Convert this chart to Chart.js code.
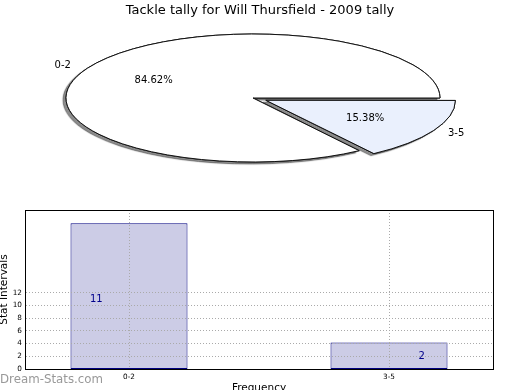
<!DOCTYPE html>
<html>
<head>
<meta charset="utf-8">
<script src="https://cdn.jsdelivr.net/npm/chart.js@4.4.1/dist/chart.umd.min.js"></script>
<style>
  html, body { margin: 0; padding: 0; background: #fff; }
  body { width: 520px; height: 390px; position: relative; overflow: hidden; font-family: "DejaVu Sans", sans-serif; }
  #title { position: absolute; left: 0; top: 2px; width: 520px; text-align: center; font-size: 13px; line-height: 15px; color: #000; }
  #pieBox { position: absolute; left: 0; top: 0; width: 506px; height: 196px; }
  #barBox { position: absolute; left: 0; top: 200px; width: 520px; height: 190px; }
  #mark { position: absolute; left: 0; top: 372px; font-size: 11.8px; line-height: 14px; color: #999; }
</style>
</head>
<body>
<div id="pieBox"><canvas id="pieChart"></canvas></div>
<div id="title">Tackle tally for Will Thursfield - 2009 tally</div>
<div id="barBox"><canvas id="barChart"></canvas></div>
<div id="mark">Dream-Stats.com</div>
<script>
// pie data
const sliceLabels = ["0-2", "3-5"];
const sliceCounts = [11, 2];
const sliceColors = ["#ffffff", "#eaf0fd"];
const sliceOffsets = [0, 58];

// bar data
const barLabels = ["0-2", "3-5"];
const barValues = [11, 2];
const yTicks = [0, 2, 4, 6, 8, 10, 12];

const total = sliceCounts.reduce((a, b) => a + b, 0);
const squash = 64 / 187;
const font = "'DejaVu Sans', sans-serif";

// squash the pie into an ellipse, with a drop shadow under it
const pieLook = {
    id: "pieLook",
    beforeDatasetsDraw(chart) {
        const ctx = chart.ctx;
        const meta = chart.getDatasetMeta(0);
        const cx = meta.data[0].x, cy = meta.data[0].y;
        const base = ctx.getTransform();
        ctx.save();
        ctx.translate(cx, cy);
        ctx.scale(1, squash);
        ctx.translate(-cx, -cy);
        // keep outline width even after the squash
        const stroke = ctx.stroke;
        ctx.stroke = function () {
            this.save();
            this.setTransform(base);
            stroke.call(this);
            this.restore();
        };
        ctx.save();
        ctx.shadowColor = "rgba(0,0,0,0.45)";
        ctx.shadowOffsetX = -3;
        ctx.shadowOffsetY = 2;
        ctx.shadowBlur = 1;
        meta.controller.draw();
        ctx.restore();
    },
    afterDatasetsDraw(chart) {
        const ctx = chart.ctx;
        delete ctx.stroke;
        ctx.restore();

        const meta = chart.getDatasetMeta(0);
        ctx.save();
        ctx.font = "10px " + font;
        ctx.fillStyle = "#000";
        ctx.textBaseline = "middle";
        meta.data.forEach((arc, i) => {
            const mid = (arc.startAngle + arc.endAngle) / 2;
            const shift = (sliceOffsets[i] || 0) / 4;
            const r = arc.outerRadius;
            const at = k => [
                arc.x + Math.cos(mid) * (shift + k * r),
                arc.y + Math.sin(mid) * (shift + k * r) * squash
            ];
            let [x, y] = at(1.1);
            ctx.textAlign = Math.cos(mid) >= 0 ? "left" : "right";
            ctx.fillText(sliceLabels[i], x, y);
            [x, y] = at(0.6);
            ctx.textAlign = "center";
            ctx.fillText((sliceCounts[i] / total * 100).toFixed(2) + "%", x, y);
        });
        ctx.restore();
    }
};

new Chart(document.getElementById("pieChart"), {
    type: "pie",
    data: {
        labels: sliceLabels,
        datasets: [{
            data: sliceCounts,
            backgroundColor: sliceColors,
            borderColor: "#111",
            borderWidth: 1,
            offset: sliceOffsets,
            clip: false
        }]
    },
    options: {
        responsive: true,
        maintainAspectRatio: false,
        animation: false,
        events: [],
        radius: 187,
        rotation: 90 - 360 * sliceCounts[0] / total,
        plugins: {
            legend: { display: false },
            tooltip: { enabled: false }
        }
    },
    plugins: [pieLook]
});

// number written next to each bar, on the tick scale
const barText = {
    id: "barText",
    afterDatasetsDraw(chart) {
        const ctx = chart.ctx;
        const yScale = chart.scales.y;
        const meta = chart.getDatasetMeta(0);
        ctx.save();
        ctx.font = "10px " + font;
        ctx.fillStyle = "#00008b";
        ctx.textAlign = "center";
        ctx.textBaseline = "middle";
        meta.data.forEach((bar, i) => {
            const side = i === 0 ? -1 : 1;
            ctx.fillText(String(barValues[i]), bar.x + side * bar.width * 0.28, yScale.getPixelForValue(barValues[i]));
        });
        ctx.restore();
    }
};

const frame = {
    id: "frame",
    afterDraw(chart) {
        const a = chart.chartArea;
        const ctx = chart.ctx;
        ctx.save();
        ctx.strokeStyle = "#000";
        ctx.lineWidth = 1;
        ctx.strokeRect(Math.round(a.left) + 0.5, Math.round(a.top) + 0.5,
            Math.round(a.right - a.left), Math.round(a.bottom - a.top));
        ctx.restore();
    }
};

const tickFont = { family: "DejaVu Sans", size: 7.3 };
// grid is drawn above the bars, so the border layer must follow it
const dotted = { color: "#000", dash: [1, 2], z: 1 };

new Chart(document.getElementById("barChart"), {
    type: "bar",
    data: {
        datasets: [{
            data: barValues.map((v, i) => ({ x: i, y: v })),
            yAxisID: "yBar",
            backgroundColor: "#ccccE6",
            borderColor: "#000080",
            borderWidth: 1,
            borderSkipped: false,
            barPercentage: 0.45,
            categoryPercentage: 1
        }]
    },
    options: {
        responsive: true,
        maintainAspectRatio: false,
        animation: false,
        events: [],
        layout: { padding: { top: 10, right: 27, left: 0, bottom: 0 } },
        plugins: {
            legend: { display: false },
            tooltip: { enabled: false }
        },
        scales: {
            x: {
                type: "linear",
                min: -0.4,
                max: 1.4,
                offset: false,
                afterBuildTicks: s => { s.ticks = barLabels.map((l, i) => ({ value: i })); },
                afterFit: s => { s.height = 21; },
                ticks: {
                    callback: v => barLabels[v],
                    font: tickFont,
                    color: "#000",
                    padding: 4,
                    autoSkip: false,
                    maxRotation: 0
                },
                grid: { color: "#aaa", drawTicks: false, offset: false, z: 1 },
                border: dotted,
                title: {
                    display: true,
                    text: "Frequency",
                    color: "#000",
                    font: { family: "DejaVu Sans", size: 10.5 },
                    padding: { top: 0, bottom: -5 }
                }
            },
            y: {
                position: "left",
                min: 0,
                max: 25,
                afterBuildTicks: s => { s.ticks = yTicks.map(v => ({ value: v })); },
                afterFit: s => { s.width = 25; },
                ticks: { font: tickFont, color: "#000", padding: 3 },
                grid: { color: "#aaa", drawTicks: false, z: 1 },
                border: dotted,
                title: {
                    display: true,
                    text: "Stat Intervals",
                    color: "#000",
                    font: { family: "DejaVu Sans", size: 10.5 },
                    padding: { top: -2, bottom: 0 }
                }
            },
            yBar: { display: false, min: 0, max: 12 }
        }
    },
    plugins: [barText, frame]
});
</script>
</body>
</html>
